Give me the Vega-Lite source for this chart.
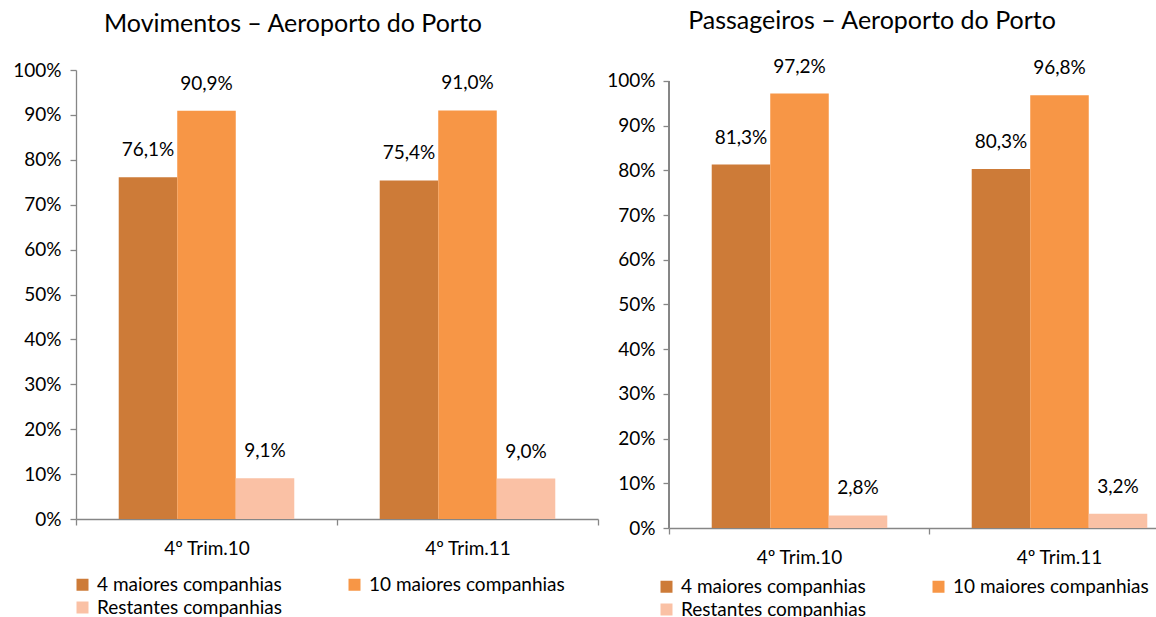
{
  "$schema": "https://vega.github.io/schema/vega-lite/v6.json",
  "autosize": "pad",
  "padding": {"left": 12, "top": 8, "right": 0, "bottom": 0},
  "background": "white",
  "config": {
    "locale": {"number": {"decimal": ",", "thousands": ".", "grouping": [3], "currency": ["", " €"]}},
    "font": "Lato",
    "view": {"stroke": null},
    "axis": {"labelFont": "Lato", "labelFontSize": 19, "labelColor": "#000000", "domainColor": "#868686", "tickColor": "#868686", "domainWidth": 1.3, "tickWidth": 1.3, "grid": false, "title": null},
    "legend": {"labelFont": "Lato", "labelFontSize": 19, "labelColor": "#000000", "labelLimit": 400},
    "title": {"font": "Lato", "fontSize": 25, "fontWeight": "normal", "color": "#000000"}
  },
  "spacing": 7,
  "resolve": {"scale": {"color": "independent"}, "legend": {"color": "independent"}},
  "hconcat": [
    {
      "title": {"text": "Movimentos – Aeroporto do Porto", "anchor": "middle", "dx": -44, "offset": 24},
      "width": 522,
      "height": 449,
      "data": {"values": [
        {"periodo": "4º Trim.10", "serie": "4 maiores companhias", "valor": 0.761},
        {"periodo": "4º Trim.10", "serie": "10 maiores companhias", "valor": 0.909},
        {"periodo": "4º Trim.10", "serie": "Restantes companhias", "valor": 0.091},
        {"periodo": "4º Trim.11", "serie": "4 maiores companhias", "valor": 0.754},
        {"periodo": "4º Trim.11", "serie": "10 maiores companhias", "valor": 0.910},
        {"periodo": "4º Trim.11", "serie": "Restantes companhias", "valor": 0.090}
      ]},
      "encoding": {
        "x": {"field": "periodo", "type": "nominal", "sort": null, "scale": {"paddingInner": 0, "paddingOuter": 0},
          "axis": {"labelAngle": 0, "tickBand": "extent", "tickSize": 6, "labelPadding": 14}},
        "xOffset": {"field": "serie", "type": "nominal", "sort": ["4 maiores companhias", "10 maiores companhias", "Restantes companhias"], "scale": {"paddingOuter": 0.73, "paddingInner": 0}},
        "y": {"field": "valor", "type": "quantitative", "scale": {"domain": [0, 1]},
          "axis": {"values": [0, 0.1, 0.2, 0.3, 0.4, 0.5, 0.6, 0.7, 0.8, 0.9, 1], "format": ".0%", "tickSize": 6, "labelPadding": 9}}
      },
      "layer": [
        {
          "mark": {"type": "bar"},
          "encoding": {
            "color": {"field": "serie", "type": "nominal", "sort": ["4 maiores companhias", "10 maiores companhias", "Restantes companhias"],
              "scale": {"domain": ["4 maiores companhias", "10 maiores companhias", "Restantes companhias"], "range": ["#CD7B38", "#F79646", "#FAC1A5"]},
              "legend": {"title": null, "orient": "none", "direction": "horizontal", "legendX": -3, "legendY": 505, "columns": 2, "columnPadding": 63, "rowPadding": 3, "symbolType": "square", "symbolSize": 144, "symbolStrokeWidth": 0, "labelOffset": 5}}
          }
        },
        {
          "mark": {"type": "text", "fontSize": 19, "color": "#000000", "dy": -27, "baseline": "middle"},
          "encoding": {"text": {"field": "valor", "type": "quantitative", "format": ".1%"}}
        }
      ]
    },
    {
      "title": {"text": "Passageiros – Aeroporto do Porto", "anchor": "middle", "dx": -57, "offset": 24},
      "width": 520,
      "height": 458,
      "data": {"values": [
        {"periodo": "4º Trim.10", "serie": "4 maiores companhias", "valor": 0.813},
        {"periodo": "4º Trim.10", "serie": "10 maiores companhias", "valor": 0.972},
        {"periodo": "4º Trim.10", "serie": "Restantes companhias", "valor": 0.028},
        {"periodo": "4º Trim.11", "serie": "4 maiores companhias", "valor": 0.803},
        {"periodo": "4º Trim.11", "serie": "10 maiores companhias", "valor": 0.968},
        {"periodo": "4º Trim.11", "serie": "Restantes companhias", "valor": 0.032}
      ]},
      "layer": [
        {
          "mark": {"type": "bar"},
          "encoding": {
            "x": {"field": "periodo", "type": "nominal", "sort": null, "scale": {"paddingInner": 0, "paddingOuter": 0},
              "axis": {"labelAngle": 0, "tickBand": "extent", "tickSize": 6, "labelPadding": 14}},
            "xOffset": {"field": "serie", "type": "nominal", "sort": ["4 maiores companhias", "10 maiores companhias", "Restantes companhias"], "scale": {"paddingOuter": 0.73, "paddingInner": 0}},
            "y": {"field": "valor", "type": "quantitative", "scale": {"domain": [0, 1.0246], "nice": false},
              "axis": {"values": [0, 0.1, 0.2, 0.3, 0.4, 0.5, 0.6, 0.7, 0.8, 0.9, 1], "format": ".0%", "tickSize": 6, "labelPadding": 8, "domain": false}},
            "color": {"field": "serie", "type": "nominal", "sort": ["4 maiores companhias", "10 maiores companhias", "Restantes companhias"],
              "scale": {"domain": ["4 maiores companhias", "10 maiores companhias", "Restantes companhias"], "range": ["#CD7B38", "#F79646", "#FAC1A5"]},
              "legend": {"title": null, "orient": "none", "direction": "horizontal", "legendX": -12, "legendY": 507, "columns": 2, "columnPadding": 63, "rowPadding": 3, "symbolType": "square", "symbolSize": 144, "symbolStrokeWidth": 0, "labelOffset": 5}}
          }
        },
        {
          "mark": {"type": "text", "fontSize": 19, "color": "#000000", "dy": -27, "baseline": "middle"},
          "encoding": {
            "x": {"field": "periodo", "type": "nominal", "sort": null},
            "xOffset": {"field": "serie", "type": "nominal", "sort": ["4 maiores companhias", "10 maiores companhias", "Restantes companhias"]},
            "y": {"field": "valor", "type": "quantitative"},
            "text": {"field": "valor", "type": "quantitative", "format": ".1%"}
          }
        },
        {
          "mark": {"type": "rule", "color": "#868686", "strokeWidth": 1.3},
          "encoding": {
            "x": {"datum": "4º Trim.10", "type": "nominal", "bandPosition": 0},
            "y": {"datum": 0, "type": "quantitative"},
            "y2": {"datum": 1}
          }
        }
      ]
    }
  ]
}
